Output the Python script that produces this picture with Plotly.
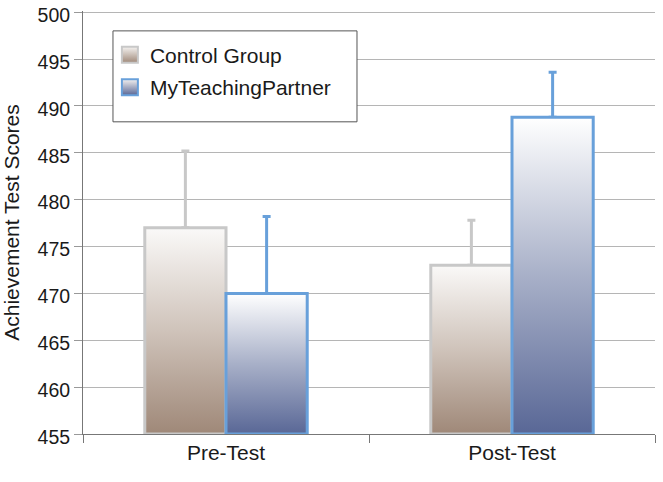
import plotly.graph_objects as go

# ---- data ----
categories = ["Pre-Test", "Post-Test"]
control = [477.0, 473.0]
control_err = [8.2, 4.8]
mtp = [470.0, 488.8]
mtp_err = [8.2, 4.8]
y_ticks = [455, 460, 465, 470, 475, 480, 485, 490, 495, 500]

Y_MIN, Y_MAX = 455, 500
BAR_W = 0.284
FONT = "Liberation Sans, Arial, Helvetica, sans-serif"

ctrl_line = "#c8c8c8"
mtp_line = "#68a0da"

fig = go.Figure()

series = [
    ("Control Group", control, control_err, -1, ctrl_line,
     [[0, "#9f8878"], [0.5, "#cfc3ba"], [1, "#faf9f8"]]),
    ("MyTeachingPartner", mtp, mtp_err, 0, mtp_line,
     [[0, "#596796"], [0.5, "#a8b0c8"], [1, "#ffffff"]]),
]

# error bars (upward only)
for name, vals, errs, side, lc, cs in series:
    xs = [i + (side + 0.5) * BAR_W for i in range(len(categories))]
    fig.add_trace(go.Scatter(
        x=xs, y=vals, mode="markers",
        marker=dict(size=1, color="rgba(0,0,0,0)"),
        error_y=dict(type="data", symmetric=False, array=errs,
                     arrayminus=[0] * len(errs), color=lc,
                     thickness=3, width=4),
        showlegend=False, hoverinfo="skip"))

# bars as gradient-filled rectangles built from the data
for name, vals, errs, side, lc, cs in series:
    for i, v in enumerate(vals):
        x0 = i + side * BAR_W
        x1 = x0 + BAR_W
        fig.add_trace(go.Scatter(
            x=[x0, x0, x1, x1, x0],
            y=[Y_MIN, v, v, Y_MIN, Y_MIN],
            mode="lines", fill="toself",
            line=dict(color=lc, width=3),
            fillgradient=dict(type="vertical", colorscale=cs),
            name=name, legendgroup=name, showlegend=False,
            hoverinfo="skip"))
    # legend entry
    fig.add_trace(go.Scatter(
        x=[None], y=[None], mode="markers", name=name, legendgroup=name,
        marker=dict(symbol="square", size=16, color="#f4f2f0",
                    gradient=dict(type="vertical", color=cs[0][1]),
                    line=dict(color=lc, width=2)),
        hoverinfo="skip"))

fig.update_layout(
    width=663, height=482,
    margin=dict(l=83, r=8, t=11, b=48, autoexpand=False),
    paper_bgcolor="white", plot_bgcolor="white",
    font=dict(family=FONT, size=21, color="#1a1a1a"),
    showlegend=True,
    legend=dict(x=0.047, y=0.944, xanchor="left", yanchor="top",
                bgcolor="rgba(0,0,0,0)", borderwidth=0,
                font=dict(size=21, family=FONT, color="#1a1a1a"),
                itemwidth=30, tracegroupgap=2),
    shapes=[dict(type="rect", xref="paper", yref="paper", layer="above",
                 x0=0.0524, x1=0.479, y0=0.738, y1=0.953,
                 fillcolor="white", line=dict(color="#555555", width=1))],
)

fig.update_xaxes(
    range=[-0.5, 1.5], showgrid=False, zeroline=False,
    tickvals=list(range(len(categories))), ticktext=categories,
    ticks="", ticklen=0, automargin=False,
    showline=True, linecolor="#777777", linewidth=1,
    minor=dict(tickvals=[-0.5, 0.5, 1.5], ticks="outside", ticklen=8,
               tickcolor="#777777", tickwidth=1, showgrid=False),
    tickfont=dict(size=21), fixedrange=True,
)

fig.update_yaxes(
    range=[Y_MIN, Y_MAX + 0.128], tickvals=y_ticks, automargin=False,
    ticklabeloverflow="allow", ticklabelshift=3,
    showgrid=True, gridcolor="#b5b5b5", gridwidth=1,
    zeroline=False, showline=True, linecolor="#777777", linewidth=1,
    ticks="outside", ticklen=8, tickcolor="#999999",
    tickfont=dict(size=19.5),
    title=dict(text="Achievement Test Scores", font=dict(size=21), standoff=15),
    fixedrange=True,
)

fig.write_html("out.html",
               config={"displayModeBar": False},
               post_script="document.body.style.margin='0';")
